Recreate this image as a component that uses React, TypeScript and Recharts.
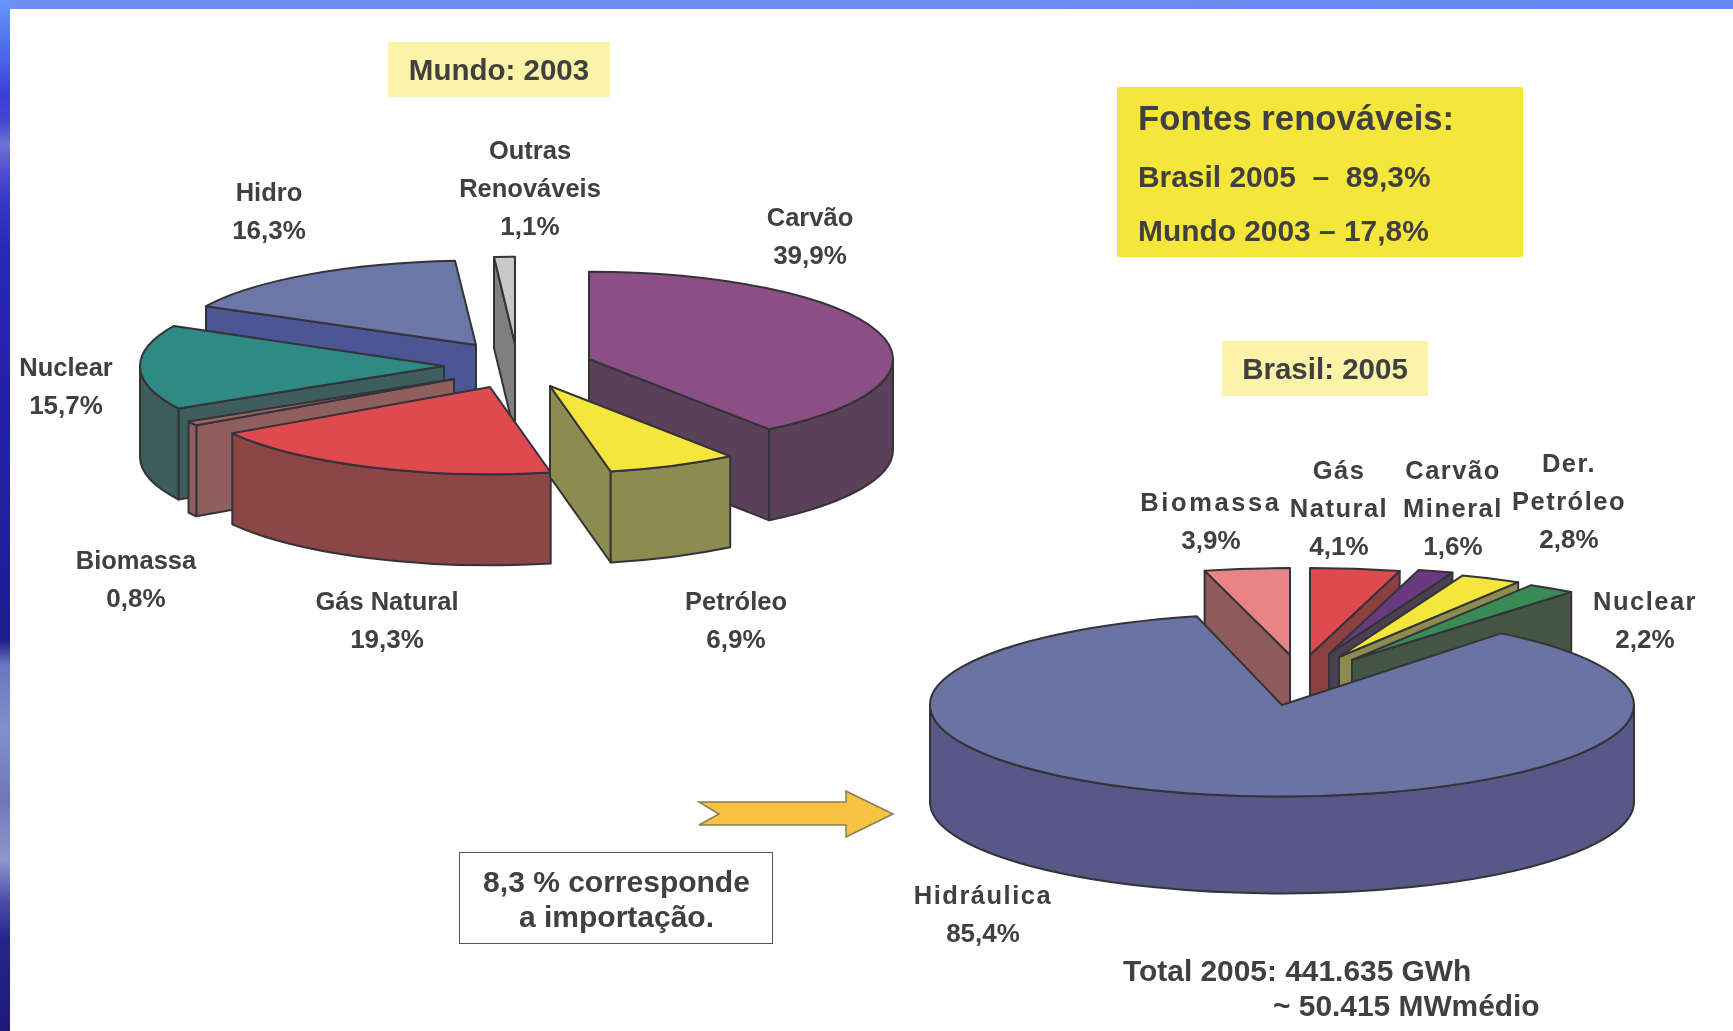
import { Pie, PieChart } from 'recharts'

const FONT = '"Liberation Sans", Arial, sans-serif'
const TEXT = '#404040'
const OUTLINE = '#333338'

// Mundo: 2003 (clockwise from 12 o'clock)
const worldNames = ['Carvão', 'Petróleo', 'Gás Natural', 'Biomassa', 'Nuclear', 'Hidro', 'Outras Renováveis']
const worldValues = [39.9, 6.9, 19.3, 0.8, 15.7, 16.3, 1.1]
const worldLines = [['Carvão'], ['Petróleo'], ['Gás Natural'], ['Biomassa'], ['Nuclear'], ['Hidro'], ['Outras', 'Renováveis']]
const worldTop = ['#8B4F85', '#F5E63C', '#DE4A50', '#A06464', '#2F8A85', '#6B77A8', '#C8C8C8']
const worldSide = ['#5A4058', '#8C8C50', '#8C4646', '#8F5F5F', '#3E5E5E', '#4C5595', '#808080']
const worldTilt = [0.287, 0.287, 0.287, 0.287, 0.287, 0.278, 0.287]
const worldExplode = [[76, 9], [37, 36], [-23, 37], [-59, 29], [-69, 16], [-37, -5], [2, -6]]
const worldLabelAt = [[810, 226], [736, 610], [387, 610], [136, 569], [66, 376], [269, 201], [530, 159]]
const worldDrawOrder = [5, 6, 0, 4, 3, 2, 1]

// Brasil: 2005
const brazilNames = ['Gás Natural', 'Carvão Mineral', 'Der. Petróleo', 'Nuclear', 'Hidráulica', 'Biomassa']
const brazilValues = [4.1, 1.6, 2.8, 2.2, 85.4, 3.9]
const brazilLines = [['Gás', 'Natural'], ['Carvão', 'Mineral'], ['Der.', 'Petróleo'], ['Nuclear'], ['Hidráulica'], ['Biomassa']]
const brazilTop = ['#DE4A50', '#6A3A80', '#F5E63C', '#3A8A58', '#6B72A4', '#E88488']
const brazilSide = ['#8C4040', '#4A4050', '#8C8C50', '#445544', '#585888', '#8F5A5A']
const brazilTilt = [0.247, 0.247, 0.247, 0.247, 0.26, 0.247]
const brazilExplode = [[28, -50], [47, -51], [57, -48], [70, -45], [0, 0], [8, -50]]
const brazilLabelAt = [[1339, 479], [1453, 479], [1569, 472], [1645, 610], [983, 904], [1211, 511]]
const brazilDrawOrder = [5, 0, 1, 2, 3, 4]

const percent = (v: number) => v.toFixed(1).replace('.', ',') + '%'

function SliceShape({ cx, cy, outerRadius, startAngle, endAngle, tilt, depth, offset, top, side }: any) {
  const rx = outerRadius
  const ry = rx * tilt
  const ax = cx + offset[0]
  const ay = cy + offset[1]
  const a0 = 90 - startAngle
  const a1 = 90 - endAngle
  const pt = (a: number, d = 0) => {
    const r = (a * Math.PI) / 180
    return `${ax + rx * Math.sin(r)} ${ay - ry * Math.cos(r) + d}`
  }
  const large = a1 - a0 > 180 ? 1 : 0
  const common = { stroke: OUTLINE, strokeWidth: 2, strokeLinejoin: 'round' as const }

  const r0 = Math.max(a0, 90)
  const r1 = Math.min(a1, 270)
  const hasRim = r1 > r0
  const rimLarge = r1 - r0 > 180 ? 1 : 0
  // only the cut faces turned towards the viewer get drawn
  const showStart = Math.sin((a0 * Math.PI) / 180) < -1e-6
  const showEnd = Math.sin((a1 * Math.PI) / 180) > 1e-6

  return (
    <g>
      {showStart && <path d={`M ${pt(a0)} L ${ax} ${ay} L ${ax} ${ay + depth} L ${pt(a0, depth)} Z`} fill={side} {...common} />}
      {showEnd && <path d={`M ${pt(a1)} L ${ax} ${ay} L ${ax} ${ay + depth} L ${pt(a1, depth)} Z`} fill={side} {...common} />}
      {hasRim && (
        <path
          d={`M ${pt(r0)} A ${rx} ${ry} 0 ${rimLarge} 1 ${pt(r1)} L ${pt(r1, depth)} A ${rx} ${ry} 0 ${rimLarge} 0 ${pt(r0, depth)} Z`}
          fill={side}
          {...common}
        />
      )}
      <path d={`M ${ax} ${ay} L ${pt(a0)} A ${rx} ${ry} 0 ${large} 1 ${pt(a1)} Z`} fill={top} {...common} />
    </g>
  )
}

function labelRenderer(lines: string[][], at: number[][], values: number[], spacing: number) {
  return (p: any) => {
    const i = p.index
    const all = [...lines[i], percent(values[i])]
    return (
      <text key={i} x={at[i][0]} y={at[i][1]} textAnchor="middle" fontFamily={FONT} fontWeight={700} fontSize={25.5} fill={TEXT}>
        {all.map((s, k) => (
          <tspan
            key={k}
            x={at[i][0]}
            dy={k === 0 ? 0 : 38}
            style={{ letterSpacing: k === all.length - 1 ? 0 : s === 'Biomassa' && spacing ? 2.6 : spacing }}
            fontSize={k === all.length - 1 ? 26 : 25.5}
          >
            {s}
          </tspan>
        ))}
      </text>
    )
  }
}

function layers(
  id: string,
  names: string[],
  values: number[],
  order: number[],
  cx: number,
  cy: number,
  radius: number,
  tilt: number[],
  depth: number,
  explode: number[][],
  top: string[],
  side: string[],
  label: any,
) {
  const rows = names.map((name, i) => ({ name, value: values[i] }))
  return order.map((idx, n) => (
    <Pie
      key={id + idx}
      data={rows}
      dataKey="value"
      nameKey="name"
      cx={cx}
      cy={cy}
      outerRadius={radius}
      startAngle={90}
      endAngle={-270}
      isAnimationActive={false}
      labelLine={false}
      label={n === order.length - 1 ? label : false}
      shape={(p: any) =>
        p.index === idx ? (
          <SliceShape {...p} tilt={tilt[idx]} depth={depth} offset={explode[idx]} top={top[idx]} side={side[idx]} />
        ) : (
          <g />
        )
      }
    />
  ))
}

const box = (x: number, y: number, w: number, h: number, background: string): React.CSSProperties => ({
  position: 'absolute',
  left: x,
  top: y,
  width: w,
  height: h,
  background,
})

const textAt = (x: number, y: number, size: number): React.CSSProperties => ({
  position: 'absolute',
  left: x,
  top: y,
  fontSize: size,
  lineHeight: `${size}px`,
  whiteSpace: 'pre',
  color: TEXT,
  fontWeight: 700,
})

const LEFT_BAND =
  'linear-gradient(180deg,#6a98fb 0px,#5a80f0 25px,#4a64e8 60px,#3c3cd8 95px,#4448d0 122px,#7074d8 145px,#5050d0 170px,#3838c8 200px,#2828b8 250px,#2020a8 400px,#20209c 520px,#1c1c90 640px,#6a78bc 665px,#8090cc 730px,#7078b8 800px,#8c98cc 860px,#4a50a8 900px,#24248c 940px,#1e1a78 1031px)'

export default function App() {
  return (
    <div style={{ position: 'absolute', left: 0, top: 0, width: 1733, height: 1031, background: '#fff', overflow: 'hidden', fontFamily: FONT, filter: 'blur(0.5px)' }}>
      {/* slide frame */}
      <div style={box(0, 0, 1733, 9, 'linear-gradient(90deg,#6e90f2,#6f8ff0 50%,#6488f4)')} />
      <div style={box(0, 0, 10, 1031, LEFT_BAND)} />

      {/* title boxes */}
      <div style={box(388, 42, 222, 55, '#FAF3A8')} />
      <div style={{ ...textAt(388, 55, 29.5), width: 222, textAlign: 'center' }}>Mundo: 2003</div>

      <div style={box(1117, 87, 406, 170, '#F5E63C')} />
      <div style={textAt(1138, 101, 34.7)}>Fontes renováveis:</div>
      <div style={textAt(1138, 162, 29.9)}>Brasil 2005  –  89,3%</div>
      <div style={textAt(1138, 216, 29.9)}>Mundo 2003 – 17,8%</div>

      <div style={box(1222, 341, 206, 55, '#FAF3A8')} />
      <div style={{ ...textAt(1222, 354, 29.5), width: 206, textAlign: 'center' }}>Brasil: 2005</div>

      <div style={{ ...box(459, 852, 312, 90, '#fff'), border: '1.5px solid #555', boxSizing: 'content-box' }} />
      <div style={{ ...textAt(459, 867, 30), width: 315, textAlign: 'center' }}>8,3 % corresponde</div>
      <div style={{ ...textAt(459, 902, 30), width: 315, textAlign: 'center' }}>a importação.</div>

      <div style={textAt(1123, 956, 29.9)}>Total 2005: 441.635 GWh</div>
      <div style={textAt(1273, 991, 29.9)}>~ 50.415 MWmédio</div>

      <svg width={1733} height={1031} style={{ position: 'absolute', left: 0, top: 0 }}>
        <polygon
          points="699,802 846,802 846,791 893,814 846,837 846,825 699,825 719,814"
          fill="#F5C242"
          stroke="#8a7d55"
          strokeWidth={1.5}
        />
      </svg>

      <div style={{ position: 'absolute', left: 0, top: 0 }}>
        <PieChart width={1733} height={1031} margin={{ top: 0, right: 0, bottom: 0, left: 0 }}>
          {layers('w', worldNames, worldValues, worldDrawOrder, 513, 350, 304, worldTilt, 91, worldExplode, worldTop, worldSide, labelRenderer(worldLines, worldLabelAt, worldValues, 0))}
          {layers('b', brazilNames, brazilValues, brazilDrawOrder, 1282, 705, 352, brazilTilt, 97, brazilExplode, brazilTop, brazilSide, labelRenderer(brazilLines, brazilLabelAt, brazilValues, 1.5))}
        </PieChart>
      </div>
    </div>
  )
}
